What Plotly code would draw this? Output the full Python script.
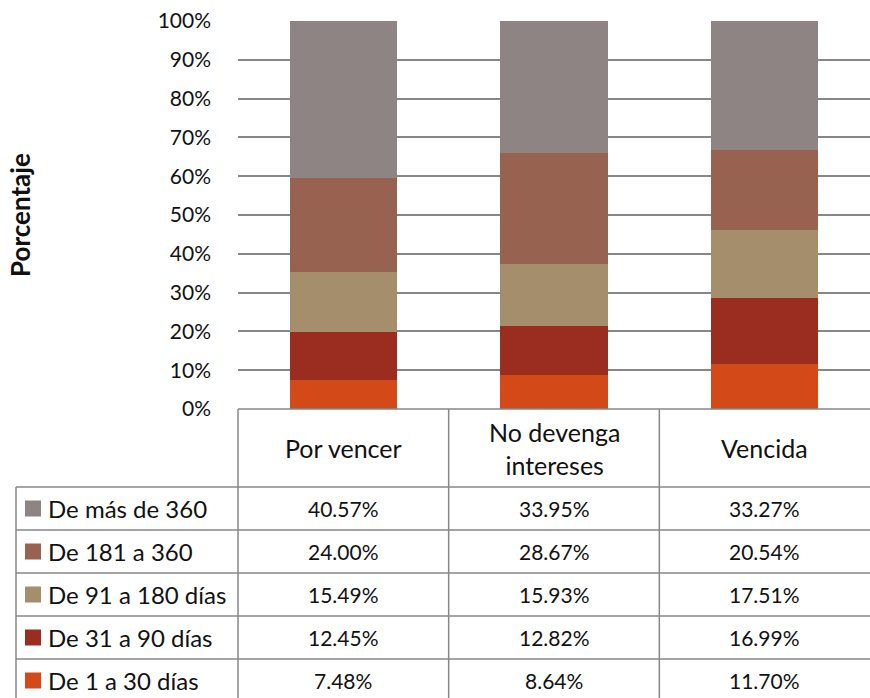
import plotly.graph_objects as go

# ---------------- data ----------------
categories = ["Por vencer", "No devenga intereses", "Vencida"]
category_labels = ["Por vencer", "No devenga<br>intereses", "Vencida"]
series_names = ["De 1 a 30 días", "De 31 a 90 días", "De 91 a 180 días",
                "De 181 a 360", "De más de 360"]
v_1_30 = [7.48, 8.64, 11.70]
v_31_90 = [12.45, 12.82, 16.99]
v_91_180 = [15.49, 15.93, 17.51]
v_181_360 = [24.00, 28.67, 20.54]
v_mas_360 = [40.57, 33.95, 33.27]
series_values = [v_1_30, v_31_90, v_91_180, v_181_360, v_mas_360]
series_colors = ["#D34A18", "#9B2D20", "#A58E6B", "#986250", "#8E8483"]
y_ticks = list(range(0, 101, 10))
y_tick_labels = [f"{t}%" for t in y_ticks]

# ---------------- geometry (pixels) ----------------
W, H = 870, 698
PLOT_L, PLOT_T, PLOT_B, PLOT_R = 238, 21, 409, 870
TABLE_L = 16
ROW_T = 487
ROW_H = 43
GRID = "#878787"
FONT = "Lato"
TEXT = "#111111"


def px(x):
    return x / W


def py(y):
    return 1 - y / H


fig = go.Figure()
for name, vals, col in zip(series_names, series_values, series_colors):
    fig.add_trace(go.Bar(x=categories, y=vals, name=name, marker_color=col,
                         marker_line_width=0, showlegend=False, hoverinfo="skip"))

shapes = []
annotations = []


def line(x0, y0, x1, y1):
    shapes.append(dict(type="line", xref="paper", yref="paper",
                       x0=px(x0), y0=py(y0), x1=px(x1), y1=py(y1),
                       line=dict(color=GRID, width=1.5)))


n_rows = len(series_names)
col_w = (PLOT_R - PLOT_L) / len(categories)
table_bottom = ROW_T + ROW_H * n_rows
# vertical lines
line(PLOT_L, PLOT_B, PLOT_L, table_bottom)
for i in range(1, len(categories)):
    xv = PLOT_L + col_w * i
    line(xv, PLOT_B, xv, table_bottom)
line(TABLE_L, ROW_T, TABLE_L, table_bottom)
# horizontal lines
line(PLOT_L, PLOT_B, PLOT_R, PLOT_B)
for r in range(n_rows + 1):
    line(TABLE_L, ROW_T + ROW_H * r, PLOT_R, ROW_T + ROW_H * r)

# header labels
for i, lab in enumerate(category_labels):
    annotations.append(dict(xref="paper", yref="paper",
                            x=px(PLOT_L + col_w * (i + 0.5)), y=py((PLOT_B + ROW_T) / 2),
                            text=lab, showarrow=False, xanchor="center", yanchor="middle",
                            font=dict(family=FONT, size=25, color=TEXT)))

# rows (top = last series)
for r, k in enumerate(reversed(range(n_rows))):
    yc = ROW_T + ROW_H * (r + 0.5)
    shapes.append(dict(type="rect", xref="paper", yref="paper",
                       x0=px(25), x1=px(41), y0=py(yc - 8), y1=py(yc + 8),
                       fillcolor=series_colors[k], line=dict(width=0)))
    annotations.append(dict(xref="paper", yref="paper", x=px(46), y=py(yc),
                            text=series_names[k], showarrow=False,
                            xanchor="left", yanchor="middle",
                            font=dict(family=FONT, size=24, color=TEXT)))
    for i, v in enumerate(series_values[k]):
        annotations.append(dict(xref="paper", yref="paper",
                                x=px(PLOT_L + col_w * (i + 0.5)), y=py(yc),
                                text=f"{v:.2f}%", showarrow=False,
                                xanchor="center", yanchor="middle",
                                font=dict(family=FONT, size=21, color=TEXT)))

# y axis title
annotations.append(dict(xref="paper", yref="paper", x=px(20), y=py(215),
                        text="<b>Porcentaje</b>", showarrow=False, textangle=-90,
                        xanchor="center", yanchor="middle",
                        font=dict(family=FONT, size=26, color=TEXT)))

fig.update_layout(
    width=W, height=H,
    margin=dict(l=0, r=0, t=0, b=0, autoexpand=False),
    paper_bgcolor="white", plot_bgcolor="white",
    barmode="stack", bargap=0.49,
    xaxis=dict(domain=[px(PLOT_L), px(PLOT_R)], showticklabels=False,
               showgrid=False, zeroline=False, showline=False, automargin=False),
    yaxis=dict(domain=[py(PLOT_B), py(PLOT_T)], range=[0, 100],
               tickvals=y_ticks, ticktext=y_tick_labels,
               showgrid=True, gridcolor=GRID, gridwidth=1.5,
               zeroline=False, showline=False, ticks="",
               ticklabelstandoff=26, automargin=False,
               tickfont=dict(family=FONT, size=21, color=TEXT)),
    shapes=shapes, annotations=annotations,
    font=dict(family=FONT),
)

fig.write_html("out.html", config={"displayModeBar": False},
               post_script="document.body.style.margin='0';document.body.style.overflow='hidden';")
